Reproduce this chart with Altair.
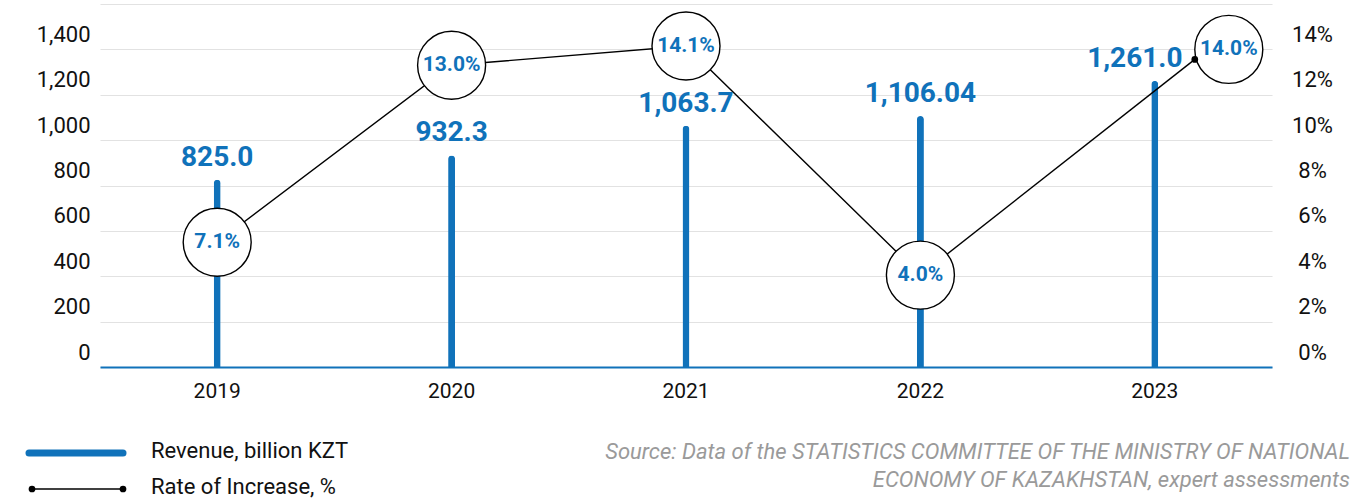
import altair as alt
import pandas as pd

# ---- data ----
years = ["2019", "2020", "2021", "2022", "2023"]
revenue = [825.0, 932.3, 1063.7, 1106.04, 1261.0]
revenue_labels = ["825.0", "932.3", "1,063.7", "1,106.04", "1,261.0"]
rate_labels = ["7.1%", "13.0%", "14.1%", "4.0%", "14.0%"]
rate_drawn = [5.5, 13.3, 14.15, 4.05, 14.0]   # where the rate markers sit on the right axis
left_ticks = [0, 200, 400, 600, 800, 1000, 1200, 1400, 1600]
right_ticks = [0, 2, 4, 6, 8, 10, 12, 14]
legend_items = ["Revenue, billion KZT", "Rate of Increase, %"]
source_lines = [
    "Source: Data of the STATISTICS COMMITTEE OF THE MINISTRY OF NATIONAL",
    "ECONOMY OF KAZAKHSTAN, expert assessments",
]

df = pd.DataFrame({
    "year": years,
    "revenue": revenue,
    "rev_label": revenue_labels,
    "rate": rate_drawn,
    "rate_label": rate_labels,
})
# last segment of the rate line (2022 -> 2023)
seg = pd.DataFrame({
    "year": [years[-2]], "rate": [rate_drawn[-2]],
    "year2": [years[-1]], "rate2": [rate_drawn[-1]],
})

BLUE = "#1072ba"
FONT = "Roboto"
W, H = 1172, 363
LAST_DX, LAST_DY = 40, 10      # the 2023 marker sits to the right of its bar
CIRCLE_DX = 74
LAST_LABEL_DX = -20

x_enc = alt.X(
    "year:N",
    sort=years,
    scale=alt.Scale(paddingInner=0, paddingOuter=0),
    axis=alt.Axis(
        title=None, labelAngle=0, domainColor=BLUE, domainWidth=2,
        ticks=False, labelPadding=13, labelFontSize=21, labelColor="#111",
        labelFont=FONT, grid=False,
    ),
)

y_left = alt.Y(
    "revenue:Q",
    scale=alt.Scale(domain=[0, 1600], nice=False),
    axis=alt.Axis(
        title=None, values=left_ticks,
        labelExpr="datum.value >= 1600 ? '' : format(datum.value, ',')",
        domain=False, ticks=False, tickSize=0, labelPadding=10,
        labelOffset=-8, labelBaseline="alphabetic", labelFontSize=22,
        labelColor="#111", labelFont=FONT,
        grid=True, gridColor="#e2e2e2", gridWidth=1.2,
    ),
)

is_last = alt.datum.year == years[-1]
not_last = alt.datum.year != years[-1]

base = alt.Chart(df)

bars = base.mark_bar(
    size=7, color=BLUE, cornerRadiusTopLeft=3.5, cornerRadiusTopRight=3.5
).encode(x=x_enc, y=y_left)

bar_txt_style = dict(dy=-14, baseline="alphabetic", fontSize=28,
                     fontWeight="bold", color=BLUE, font=FONT)
bar_text = base.transform_filter(not_last).mark_text(**bar_txt_style).encode(
    x=x_enc, y=y_left, text="rev_label:N"
)
bar_text_last = base.transform_filter(is_last).mark_text(
    dx=LAST_LABEL_DX, **bar_txt_style
).encode(x=x_enc, y=y_left, text="rev_label:N")

left_layer = alt.layer(bars, bar_text, bar_text_last)

y_right = alt.Y(
    "rate:Q",
    scale=alt.Scale(domain=[0, 16], nice=False),
    axis=alt.Axis(
        title=None, orient="right", values=right_ticks,
        labelExpr="datum.value + '%'",
        domain=False, ticks=False, tickSize=0, grid=False,
        labelAlign="center", labelPadding=40, labelOffset=-8,
        labelBaseline="alphabetic", labelFontSize=22, labelColor="#111",
        labelFont=FONT,
    ),
)

line = base.transform_filter(not_last).mark_line(
    color="black", strokeWidth=1.4
).encode(x=x_enc, y=y_right)

last_seg = alt.Chart(seg).mark_rule(
    color="black", strokeWidth=1.4, x2Offset=LAST_DX, y2Offset=LAST_DY
).encode(x=x_enc, y=y_right, x2="year2:N", y2="rate2:Q")

last_dot = base.transform_filter(is_last).mark_point(
    filled=True, color="black", size=45, opacity=1, xOffset=LAST_DX, yOffset=LAST_DY
).encode(x=x_enc, y=y_right)

circ_style = dict(shape="circle", size=4624, fill="white", stroke="black",
                  strokeWidth=1.4, opacity=1, filled=False, fillOpacity=1)
circles = base.transform_filter(not_last).mark_point(**circ_style).encode(
    x=x_enc, y=y_right
)
circle_last = base.transform_filter(is_last).mark_point(
    xOffset=CIRCLE_DX, **circ_style
).encode(x=x_enc, y=y_right)

txt_style = dict(fontSize=21, fontWeight="bold", color=BLUE, font=FONT,
                 baseline="middle", align="center")
pct_text = base.transform_filter(not_last).mark_text(**txt_style).encode(
    x=x_enc, y=y_right, text="rate_label:N"
)
pct_last = base.transform_filter(is_last).mark_text(
    xOffset=CIRCLE_DX, **txt_style
).encode(x=x_enc, y=y_right, text="rate_label:N")

right_layer = alt.layer(line, last_seg, circles, circle_last, last_dot,
                        pct_text, pct_last)

# ---- legend & source (drawn below the plot area) ----
one = alt.Chart(pd.DataFrame({"k": [0]}))
leg_bar = one.mark_rule(color=BLUE, strokeWidth=7, strokeCap="round").encode(
    x=alt.value(-71), x2=alt.value(23), y=alt.value(449)
)
leg_line = one.mark_rule(color="black", strokeWidth=1.6).encode(
    x=alt.value(-68), x2=alt.value(23), y=alt.value(485)
)
leg_dots = alt.Chart(pd.DataFrame({"px": [-68, 23]})).mark_point(
    filled=True, color="black", size=45, opacity=1
).encode(x=alt.X("px:Q", scale=None), y=alt.value(485))
leg_text = alt.Chart(pd.DataFrame({"t": legend_items, "py": [447, 483]})).mark_text(
    align="left", baseline="middle", fontSize=22, color="#111", font=FONT
).encode(x=alt.value(51), y=alt.Y("py:Q", scale=None), text="t:N")
src_text = alt.Chart(pd.DataFrame({"t": source_lines, "py": [448, 476]})).mark_text(
    align="right", baseline="middle", fontSize=22, color="#9a9a9a",
    fontStyle="italic", font=FONT
).encode(x=alt.value(1250), y=alt.Y("py:Q", scale=None), text="t:N")

deco = alt.layer(leg_bar, leg_line, leg_dots, leg_text, src_text)

chart = alt.layer(left_layer, right_layer, deco).resolve_scale(
    y="independent"
).properties(
    width=W, height=H,
    padding={"left": 100, "top": 4, "right": 100, "bottom": 134},
    autosize=alt.AutoSizeParams(type="none"),
).configure_view(stroke=None)

chart.save("out.html", embed_options={"renderer": "svg", "actions": False})
